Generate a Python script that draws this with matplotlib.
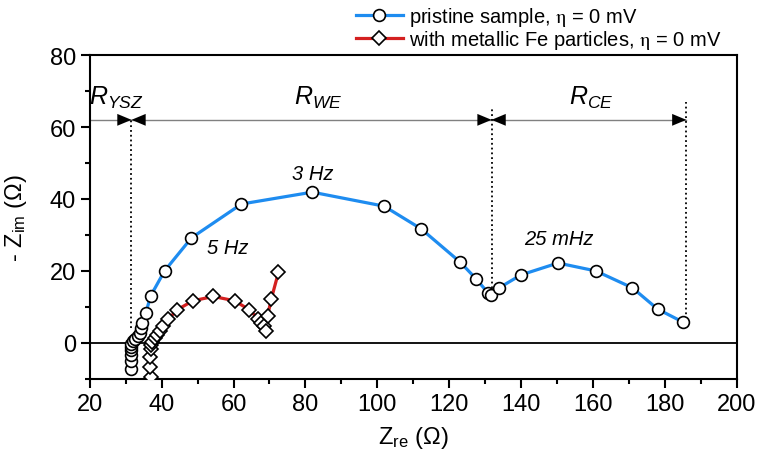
#!/usr/bin/env python3
# Nyquist plot: pristine sample vs. sample with metallic Fe particles

import numpy as np
import matplotlib
matplotlib.use("Agg")
from matplotlib import pyplot as plt
from matplotlib.ticker import MultipleLocator

matplotlib.rcParams.update({
    'font.family': ['Liberation Sans', 'DejaVu Sans'],
    'mathtext.fontset': 'custom',
    'mathtext.rm': 'Liberation Sans',
    'mathtext.it': 'Liberation Sans:italic',
    'font.size': 17,
    'axes.linewidth': 1.5,
    'xtick.major.width': 1.5,
    'ytick.major.width': 1.5,
    'xtick.minor.width': 1.5,
    'ytick.minor.width': 1.5,
    'xtick.major.size': 6.5,
    'ytick.major.size': 6.5,
    'xtick.minor.size': 3.5,
    'ytick.minor.size': 3.5,
})

# pristine sample (Z_re, -Z_im) in Ohm
pristine_re = [31.6, 31.6, 31.6, 31.4, 31.6, 31.6, 31.9, 32.5, 33.4, 33.9, 34.2,
               34.4, 35.6, 36.9, 40.8, 48.3, 62.2, 81.9, 101.9, 112.2, 123.0,
               127.5, 130.8, 131.7, 133.9, 140.0, 150.3, 160.8, 171.0, 178.0, 185.0]
pristine_im = [-7.2, -4.9, -3.3, -2.1, -1.2, -0.3, 0.4, 1.1, 1.9, 2.8, 4.2,
               5.5, 8.3, 13.0, 20.0, 29.2, 38.6, 41.9, 38.0, 31.7, 22.5,
               17.8, 13.9, 13.3, 15.3, 18.9, 22.2, 20.0, 15.3, 9.4, 5.8]

# with metallic Fe particles
fe_re = [36.9, 36.8, 36.7, 36.9, 36.9, 37.4, 38.1, 38.8, 39.4, 40.4, 41.8, 44.3,
         48.7, 54.4, 60.3, 64.4, 66.9, 67.7, 68.6, 68.9, 69.5, 70.5, 72.5]
fe_im = [-9.4, -6.8, -4.0, -1.7, -0.7, 0.2, 1.3, 2.2, 3.4, 4.6, 6.5, 9.2,
         11.7, 12.9, 11.7, 9.2, 6.7, 5.6, 4.6, 3.4, 7.6, 12.2, 19.6]

# resistance boundaries
r_start = 20.0
r_ysz = 31.6
r_we = 131.8
r_ce = 186.0
r_level = 62.0

blue = '#1e8cf0'
red = '#d42020'

fig = plt.figure(figsize=(7.61, 4.56), dpi=100)
ax = fig.add_axes([0.118, 0.167, 0.850, 0.710])

ax.axhline(0, color='k', lw=1.3, zorder=1)

ax.plot(pristine_re, pristine_im, '-o', color=blue, lw=2.3, ms=8.5,
        mfc='white', mec='k', mew=1.2, zorder=4,
        label=r'pristine sample, $\mathrm{\eta}$ = 0 mV')
ax.plot(fe_re, fe_im, '-D', color=red, lw=2.3, ms=7.5,
        mfc='white', mec='k', mew=1.2, zorder=3,
        label=r'with metallic Fe particles, $\mathrm{\eta}$ = 0 mV')

# resistance annotation
ax.plot([r_start, r_ce], [r_level, r_level], color='gray', lw=1, zorder=2)
ax.plot([r_ysz, r_ysz], [4, r_level], ls=':', color='k', lw=1.3, zorder=2)
ax.plot([r_we, r_we], [14, 65.5], ls=':', color='k', lw=1.3, zorder=2)
ax.plot([r_ce, r_ce], [6.5, 67], ls=':', color='k', lw=1.3, zorder=2)

akw = dict(arrowstyle='-|>,head_length=0.6,head_width=0.25', color='k',
           lw=0.01, shrinkA=0, shrinkB=0)
for xa, xb in [(r_ysz - 3.5, r_ysz), (r_ysz + 3.5, r_ysz),
               (r_we - 3.5, r_we), (r_we + 3.5, r_we),
               (r_ce - 3.5, r_ce)]:
    ax.annotate('', xy=(xb, r_level), xytext=(xa, r_level), arrowprops=akw)

ax.text(27.3, 68.5, r'$R_{YSZ}$', ha='center', va='center', fontsize=18)
ax.text(83.5, 68.5, r'$R_{WE}$', ha='center', va='center', fontsize=18)
ax.text(159.5, 68.5, r'$R_{CE}$', ha='center', va='center', fontsize=18)

ax.text(82, 47, '3 Hz', style='italic', ha='center', va='center', fontsize=14.5)
ax.text(58.5, 26.5, '5 Hz', style='italic', ha='center', va='center', fontsize=14.5)
ax.text(150.5, 29, '25 mHz', style='italic', ha='center', va='center', fontsize=14.5)

ax.set_xlim(20, 200)
ax.set_ylim(-10, 80)
ax.xaxis.set_major_locator(MultipleLocator(20))
ax.xaxis.set_minor_locator(MultipleLocator(10))
ax.yaxis.set_major_locator(MultipleLocator(20))
ax.yaxis.set_minor_locator(MultipleLocator(10))
ax.tick_params(which='both', direction='out', labelsize=17)
ax.set_xlabel(r'Z$_{\mathrm{re}}$ ($\Omega$)', fontsize=17, labelpad=7)
ax.set_ylabel(r'- Z$_{\mathrm{im}}$ ($\Omega$)', fontsize=17, labelpad=15)

leg = fig.legend(loc='upper left', bbox_to_anchor=(0.455, 1.008), frameon=False,
                 fontsize=14.5, handlelength=2.3, handletextpad=0.3,
                 labelspacing=0.0, borderaxespad=0.1)
for t in leg.get_texts():
    t.set_math_fontfamily('stix')

plt.savefig('out.png', dpi=100)
